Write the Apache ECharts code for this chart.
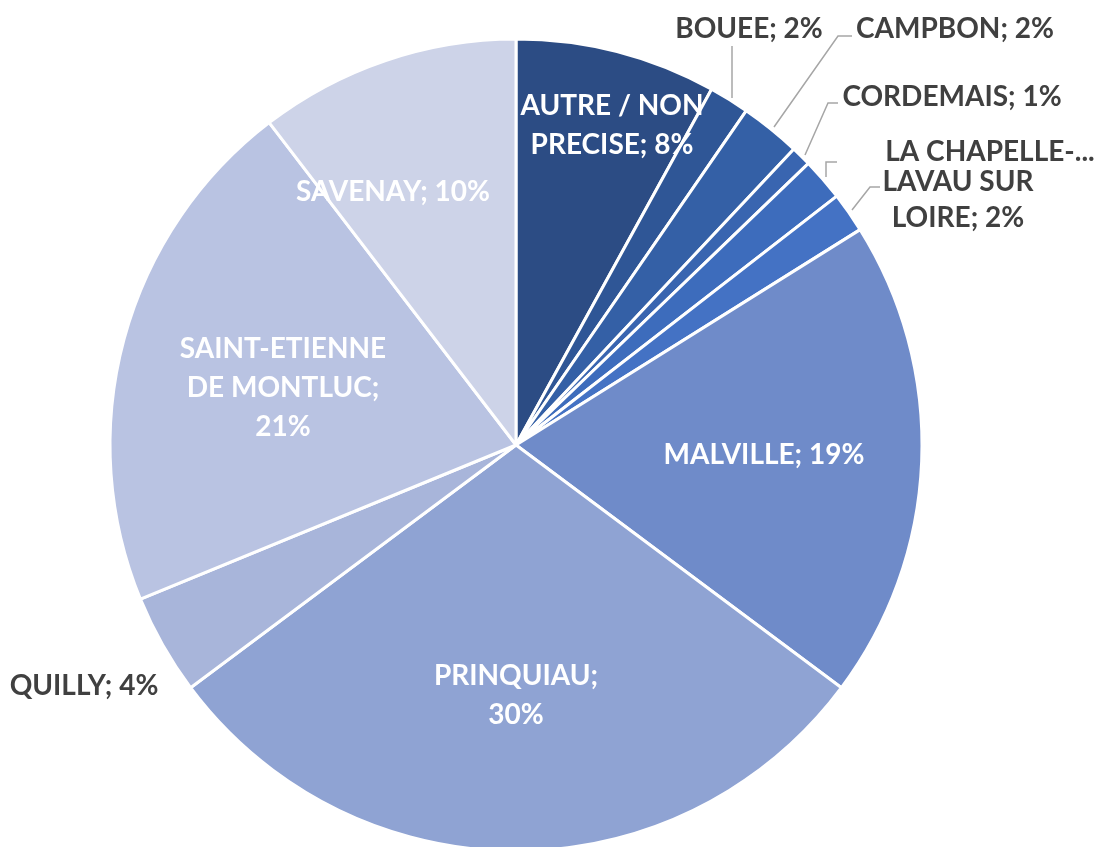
<!DOCTYPE html>
<html><head><meta charset="utf-8">
<script src="https://cdn.jsdelivr.net/npm/echarts@6/dist/echarts.min.js"></script>
<style>html,body{margin:0;padding:0;background:#fff}#c{width:1096px;height:847px}</style>
</head><body><div id="c"></div>
<script>
const categories = ['AUTRE / NON PRECISE','BOUEE','CAMPBON','CORDEMAIS','LA CHAPELLE-LAUNAY','LAVAU SUR LOIRE','MALVILLE','PRINQUIAU','QUILLY','SAINT-ETIENNE DE MONTLUC','SAVENAY'];
const values = [8.0, 1.6, 2.4, 0.8, 1.7, 1.6, 19.1, 29.6, 4.0, 20.8, 10.4];
const colors = ['#2C4C84','#2F5696','#3460A6','#3965B0','#3D6CBC','#4472C4','#6F8BC9','#8FA3D3','#A8B5DA','#B9C3E2','#CDD3E8'];
const insideLabel = [true,false,false,false,false,false,true,true,false,true,true];
// label anchor positions (px), leader line points and text display overrides
const labelPos = [[612,125],[749,29],[955,29],[952,97],[990,152],[958,200],[764,455],[516,695],[84,686],[283,388],[393,192]];
const leaderPts = [null,[[732,98],[732,72],[732,46]],[[774,127],[838,36],[852,36]],[[805,155],[828,103],[838,103]],[[826,177],[826,162],[837,162]],[[852,210],[870,187],[880,187]],null,null,null,null,null];
const labelText = ['AUTRE / NON\nPRECISE; 8%',null,null,null,'LA CHAPELLE-...','LAVAU SUR\nLOIRE; 2%',null,'PRINQUIAU;\n30%',null,'SAINT-ETIENNE\nDE MONTLUC;\n21%',null];

const chart = echarts.init(document.getElementById('c'));
const total = values.reduce((a,b)=>a+b,0);
chart.setOption({
  animation:false,
  series:[{
    type:'pie',
    center:[516,445],
    radius:406,
    startAngle:90,
    clockwise:true,
    avoidLabelOverlap:false,
    itemStyle:{borderColor:'#fff',borderWidth:3},
    label:{
      fontFamily:'Lato',fontWeight:'bold',fontSize:28,lineHeight:39,align:'center',
      formatter:p=>labelText[p.dataIndex] || (p.name+'; '+Math.round(p.value/total*100)+'%')
    },
    labelLine:{lineStyle:{color:'#A6A6A6',width:1.5},length:15,length2:10},
    labelLayout:function(p){
      const i = p.dataIndex;
      const pos = labelPos[i];
      const o = {x:pos[0],y:pos[1],align:'center',verticalAlign:'middle'};
      if (leaderPts[i]) o.labelLinePoints = leaderPts[i];
      return o;
    },
    data: categories.map((c,i)=>({
      name:c,value:values[i],
      itemStyle:{color:colors[i]},
      label:{position:insideLabel[i]?'inside':'outside',color:insideLabel[i]?'#fff':'#404040',lineHeight:i===5?36:39},
      labelLine:{show:!!leaderPts[i]}
    }))
  }]
});
</script></body></html>
